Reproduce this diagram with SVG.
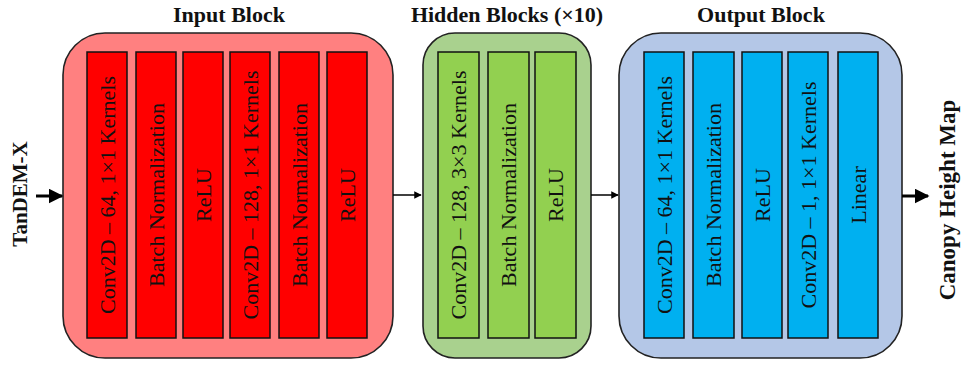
<svg xmlns="http://www.w3.org/2000/svg" width="962" height="365" viewBox="0 0 962 365">
<defs>
<style>
.title{font-family:"Liberation Serif","Times New Roman",serif;font-weight:bold;font-size:22px;fill:#111;text-anchor:middle}
.io{font-family:"Liberation Serif","Times New Roman",serif;font-weight:bold;font-size:21px;fill:#111;text-anchor:middle}
.lbl{font-family:"Liberation Serif","Times New Roman",serif;font-size:22px;fill:#111;text-anchor:middle}
.outer{stroke:#222;stroke-width:1.6}
.bar{stroke:#111;stroke-width:1.5}
.in .outer{fill:#FF8080}.in .bar{fill:#FF0000}
.hid .outer{fill:#A9D18E}.hid .bar{fill:#92D050}
.out .outer{fill:#B4C7E7}.out .bar{fill:#00B0F0}
.thin{stroke:#000;stroke-width:1.5;fill:none}
.thick{stroke:#000;stroke-width:3;fill:none}
</style>
<marker id="ah" viewBox="0 0 10 10" refX="9" refY="5" markerWidth="5" markerHeight="5" orient="auto" markerUnits="strokeWidth"><path d="M0,0 L10,5 L0,10 Z" fill="#000"/></marker>
</defs>
<text class="title" x="229" y="22">Input Block</text>
<text class="title" x="507" y="22">Hidden Blocks (×10)</text>
<text class="title" x="761" y="22">Output Block</text>
<text class="io" transform="translate(27,194) rotate(-90)">TanDEM-X</text>
<text class="io" style="font-size:23px" transform="translate(955,200) rotate(-90)">Canopy Height Map</text>
<g id="input-block" class="in">
<rect class="outer" x="63" y="33" width="330" height="325" rx="42"/>
<g id="in-conv1"><rect class="bar" x="87" y="52" width="40" height="286"/><text class="lbl" transform="translate(114.5,195) rotate(-90)">Conv2D – 64, 1×1 Kernels</text></g>
<g id="in-bn1"><rect class="bar" x="136" y="52" width="40" height="286"/><text class="lbl" transform="translate(163.5,195) rotate(-90)">Batch Normalization</text></g>
<g id="in-relu1"><rect class="bar" x="183" y="52" width="40" height="286"/><text class="lbl" transform="translate(210.5,195) rotate(-90)">ReLU</text></g>
<g id="in-conv2"><rect class="bar" x="230" y="52" width="40" height="286"/><text class="lbl" transform="translate(257.5,195) rotate(-90)">Conv2D – 128, 1×1 Kernels</text></g>
<g id="in-bn2"><rect class="bar" x="279" y="52" width="40" height="286"/><text class="lbl" transform="translate(306.5,195) rotate(-90)">Batch Normalization</text></g>
<g id="in-relu2"><rect class="bar" x="327" y="52" width="40" height="286"/><text class="lbl" transform="translate(354.5,195) rotate(-90)">ReLU</text></g>
</g>
<g id="hidden-block" class="hid">
<rect class="outer" x="423" y="33" width="168" height="325" rx="32"/>
<g id="hid-conv"><rect class="bar" x="438" y="52" width="41" height="286"/><text class="lbl" transform="translate(466,195) rotate(-90)">Conv2D – 128, 3×3 Kernels</text></g>
<g id="hid-bn"><rect class="bar" x="488" y="52" width="41" height="286"/><text class="lbl" transform="translate(516,195) rotate(-90)">Batch Normalization</text></g>
<g id="hid-relu"><rect class="bar" x="535" y="52" width="41" height="286"/><text class="lbl" transform="translate(563,195) rotate(-90)">ReLU</text></g>
</g>
<g id="output-block" class="out">
<rect class="outer" x="619" y="33" width="283" height="325" rx="42"/>
<g id="out-conv1"><rect class="bar" x="644" y="52" width="40" height="286"/><text class="lbl" transform="translate(671.5,195) rotate(-90)">Conv2D – 64, 1×1 Kernels</text></g>
<g id="out-bn"><rect class="bar" x="693" y="52" width="41" height="286"/><text class="lbl" transform="translate(721,195) rotate(-90)">Batch Normalization</text></g>
<g id="out-relu"><rect class="bar" x="742" y="52" width="40" height="286"/><text class="lbl" transform="translate(769.5,195) rotate(-90)">ReLU</text></g>
<g id="out-conv2"><rect class="bar" x="788" y="52" width="40" height="286"/><text class="lbl" transform="translate(815.5,195) rotate(-90)">Conv2D – 1, 1×1 Kernels</text></g>
<g id="out-linear"><rect class="bar" x="838" y="52" width="40" height="286"/><text class="lbl" transform="translate(865.5,195) rotate(-90)">Linear</text></g>
</g>
<g id="connectors">
<line class="thick" x1="36" y1="196" x2="62" y2="196" marker-end="url(#ah)"/>
<line class="thin" x1="393" y1="195" x2="421" y2="195" marker-end="url(#ah)"/>
<line class="thin" x1="591" y1="195" x2="618" y2="195" marker-end="url(#ah)"/>
<line class="thick" x1="902" y1="196" x2="928" y2="196" marker-end="url(#ah)"/>
</g>
</svg>
